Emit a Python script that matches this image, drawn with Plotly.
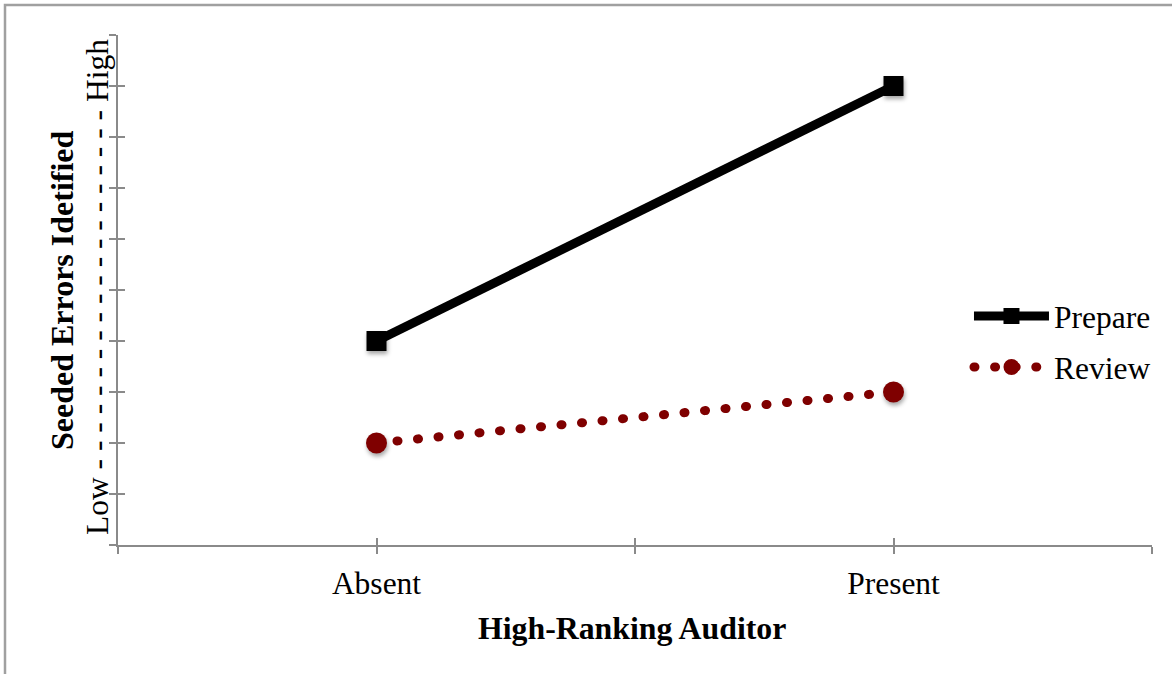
import plotly.graph_objects as go

categories = ["Absent", "Present"]
cat_pos = [0, 2]
prepare = [4, 9]
review = [2, 3]
x_ticks = [-1, 0, 1, 2, 3]
x_ticktext = ["", "Absent", "", "Present", ""]
y_ticks = list(range(0, 11))

FONT = "Liberation Serif, Times New Roman, serif"
AX = "#8a8a8a"
RED = "#7f0000"

fig = go.Figure()
fig.add_trace(go.Scatter(
    x=cat_pos, y=prepare, name="Prepare", mode="lines+markers",
    line=dict(color="black", width=9),
    marker=dict(symbol="square", size=20, color="black"),
    legend="legend",
))
fig.add_trace(go.Scatter(
    x=cat_pos, y=review, name="Review", mode="lines+markers",
    line=dict(color=RED, width=9, dash="1px,19.6px"),
    marker=dict(symbol="circle", size=21, color=RED),
    legend="legend2",
))
# helper trace so that the overlay axes (inner half of crossing ticks) render
fig.add_trace(go.Scatter(x=[None], y=[None], xaxis="x2", yaxis="y2",
                         showlegend=False, hoverinfo="skip"))

common_x = dict(range=[-1, 3], tickvals=x_ticks, showgrid=False, zeroline=False,
                ticklen=7, tickwidth=2, tickcolor=AX, fixedrange=True)
common_y = dict(range=[0, 10], tickvals=y_ticks, showgrid=False, zeroline=False,
                ticklen=7, tickwidth=2, tickcolor=AX, fixedrange=True)

fig.update_layout(
    width=1172, height=674,
    margin=dict(l=118, r=20, t=35, b=129),
    paper_bgcolor="white", plot_bgcolor="white",
    font=dict(family=FONT, color="black", size=31.5),
    xaxis=dict(**common_x, ticktext=x_ticktext, ticks="outside",
               showline=True, linecolor=AX, linewidth=2,
               tickfont=dict(size=31.5, family=FONT, color="black"),
               ticklabelstandoff=2),
    yaxis=dict(**common_y, ticks="outside", showticklabels=False,
               showline=True, linecolor=AX, linewidth=2),
    xaxis2=dict(**common_x, overlaying="x", anchor="y", side="bottom",
                ticks="inside", showticklabels=False, showline=False),
    yaxis2=dict(**common_y, overlaying="y", anchor="x", side="left",
                ticks="inside", showticklabels=False, showline=False),
    legend=dict(x=0.823, y=(545 - 316) / 510, xanchor="left", yanchor="middle",
                font=dict(size=31.5, family=FONT), itemwidth=75,
                bgcolor="rgba(0,0,0,0)", borderwidth=0),
    legend2=dict(x=0.823, y=(545 - 367) / 510, xanchor="left", yanchor="middle",
                 font=dict(size=31.5, family=FONT), itemwidth=75,
                 bgcolor="rgba(0,0,0,0)", borderwidth=0),
    showlegend=True,
)

# axis titles
fig.add_annotation(text="<b>High-Ranking Auditor</b>", xref="paper", yref="paper",
                   x=0.497, y=0, yshift=-83, xanchor="center", yanchor="middle",
                   showarrow=False, font=dict(size=31.8, family=FONT, color="black"))
fig.add_annotation(text="<b>Seeded Errors Idetified</b>", xref="paper", yref="paper",
                   x=0, y=(545 - 290) / 510, xshift=-56, textangle=-90,
                   xanchor="center", yanchor="middle",
                   showarrow=False, font=dict(size=32, family=FONT, color="black"))
fig.add_annotation(text="Low" + " -" * 20 + " High", xref="paper", yref="paper",
                   x=0, y=(545 - 287) / 510, xshift=-21, textangle=-90,
                   xanchor="center", yanchor="middle",
                   showarrow=False, font=dict(size=31.5, family=FONT, color="black"))

# outer frame
fig.add_shape(type="rect", xref="paper", yref="paper",
              x0=(5 - 118) / 1034, x1=1.2, y0=-0.5, y1=(545 - 5) / 510,
              line=dict(color="#a0a0a0", width=2.5), fillcolor="rgba(0,0,0,0)",
              layer="below")

post = """
document.body.style.margin = '0';
document.body.style.padding = '0';
var gd = document.getElementsByClassName('plotly-graph-div')[0];
function fixStyle(){
  gd.querySelectorAll('path.js-line').forEach(function(p){
    var s = p.style.stroke || '';
    if (s.indexOf('127, 0, 0') >= 0) { p.style.strokeLinecap = 'round'; }
  });
  gd.querySelectorAll('.scatterlayer .points path').forEach(function(p){
    p.style.filter = 'drop-shadow(1px 3px 2px rgba(0,0,0,0.35))';
  });
}
fixStyle();
gd.on('plotly_afterplot', fixStyle);
"""
fig.write_html("out.html", post_script=post, config={"displayModeBar": False})
